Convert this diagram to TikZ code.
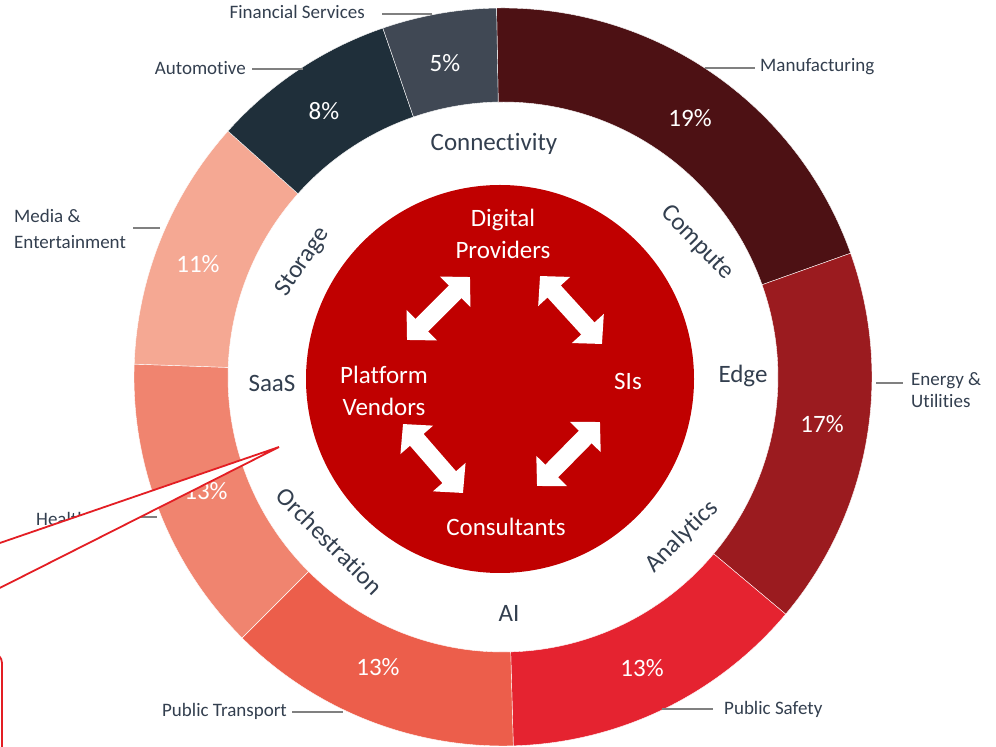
\documentclass[tikz,border=0pt]{standalone}
\usepackage{fontspec}
\setmainfont{Carlito}[Ligatures={NoCommon}]
\usetikzlibrary{arrows.meta}
\definecolor{cManu}{HTML}{4D1114}
\definecolor{cEnergy}{HTML}{9B1B1F}
\definecolor{cSafety}{HTML}{E52330}
\definecolor{cTrans}{HTML}{EC5E4B}
\definecolor{cHealth}{HTML}{F0846F}
\definecolor{cMedia}{HTML}{F5A893}
\definecolor{cAuto}{HTML}{1F2F3A}
\definecolor{cFin}{HTML}{404854}
\definecolor{cHub}{HTML}{C00000}
\definecolor{cText}{HTML}{333F4F}
\definecolor{cLead}{HTML}{808080}
\definecolor{cCall}{HTML}{E31E24}
\begin{document}
\begin{tikzpicture}[x=1pt,y=1pt,
  catlabel/.style={inner sep=0pt, text=cText, font=\fontsize{19}{22}\selectfont},
  ringlabel/.style={inner sep=0pt, text=cText, font=\fontsize{25}{30}\selectfont},
  pct/.style={inner sep=0pt, text=white, font=\fontsize{25}{30}\selectfont},
  hublabel/.style={inner sep=0pt, text=white, align=center, font=\fontsize{25}{32}\selectfont},
  leader/.style={draw=cLead, line width=1.6pt},
  dblarrow/.style={draw=white, fill=white, line width=18pt,
     {Triangle[width=42pt,length=21pt]}-{Triangle[width=42pt,length=21pt]}},
  callout/.style={fill=white, draw=cCall, line width=1.8pt, line join=miter}]
\useasboundingbox (0,0) rectangle (996,747);
\clip (0,0) rectangle (996,747);
\fill[white] (0,0) rectangle (996,747);

% donut ring
\begin{scope}[shift={(503,370)}]
\foreach \a/\b/\c in {91/19.6/cManu, 19.6/-40/cEnergy, -40/-88.4/cSafety,
   -88.4/-135/cTrans, -135/-182/cHealth, -182/-221.8/cMedia,
   -221.8/-251/cAuto, -251/-269/cFin}
  \filldraw[fill=\c, draw=white, line width=0.4pt]
    (\a:369) arc[start angle=\a, end angle=\b, radius=369]
    -- (\b:275) arc[start angle=\b, end angle=\a, radius=275] -- cycle;
\end{scope}

% hub
\node[circle, fill=cHub, minimum size=388pt, inner sep=0pt] (hub) at (500,368) {};

% hub labels
\node[hublabel] (dig) at (503,513) {Digital\\Providers};
\node[hublabel] (plat) at (384,356) {Platform\\Vendors};
\node[hublabel] (sis) at (628,366) {SIs};
\node[hublabel] (cons) at (506,220) {Consultants};

% arrows
\coordinate (nw1) at (407,407); \coordinate (nw2) at (470,470);
\coordinate (ne1) at (540,471); \coordinate (ne2) at (602,403);
\coordinate (se1) at (600,325); \coordinate (se2) at (537,261);
\coordinate (sw1) at (403,323); \coordinate (sw2) at (463,254);
\draw[dblarrow] (nw1) -- (nw2);
\draw[dblarrow] (ne1) -- (ne2);
\draw[dblarrow] (se1) -- (se2);
\draw[dblarrow] (sw1) -- (sw2);

% ring labels
\node[ringlabel] (conn) at (494,603) {Connectivity};
\node[ringlabel, rotate=-46] (comp) at (697,504) {Compute};
\node[ringlabel] (edge) at (743,371) {Edge};
\node[ringlabel, rotate=45] (anal) at (682,210) {Analytics};
\node[ringlabel] (ai) at (509,134) {AI};
\node[ringlabel, rotate=-45] (orch) at (330,206) {Orchestration};
\node[ringlabel] (saas) at (272,364) {SaaS};
\node[ringlabel, rotate=56] (stor) at (303,485) {Storage};

% percentages
\node[pct] (p19) at (690,629) {19\%};
\node[pct] (p17) at (822,323) {17\%};
\node[pct] (p13a) at (642,79) {13\%};
\node[pct] (p13b) at (378,80) {13\%};
\node[pct] (p13c) at (206,256) {13\%};
\node[pct] (p11) at (198,483) {11\%};
\node[pct] (p8) at (324,636) {8\%};
\node[pct] (p5) at (445,684) {5\%};

% category labels
\node[catlabel, anchor=east] (lfin) at (365,735) {Financial Services};
\node[catlabel, anchor=east] (lauto) at (246,679) {Automotive};
\node[catlabel, anchor=west] (lmanu) at (760,680) {Manufacturing};
\node[catlabel, anchor=west, align=left] (lenergy) at (911,357) {Energy \&\\Utilities};
\node[catlabel, anchor=west, align=left, font=\fontsize{19}{26}\selectfont] (lmedia) at (14,518) {Media \&\\Entertainment};
\node[catlabel, anchor=west] (lhealth) at (36,228) {Healthcare};
\node[catlabel, anchor=east] (ltrans) at (287,36) {Public Transport};
\node[catlabel, anchor=west] (lsafe) at (724,38) {Public Safety};

% leader lines
\coordinate (fa) at (382,733); \coordinate (fb) at (432,733);
\coordinate (aa) at (252,678); \coordinate (ab) at (303,678);
\coordinate (ma) at (705,679); \coordinate (mb) at (755,679);
\coordinate (ea) at (876,364); \coordinate (eb) at (903,364);
\coordinate (mea) at (133,519); \coordinate (meb) at (160,519);
\coordinate (ha) at (131,230); \coordinate (hb) at (157,230);
\coordinate (ta) at (292,35); \coordinate (tb) at (343,35);
\coordinate (sa) at (662,38); \coordinate (sb) at (713,38);
\draw[leader] (fa) -- (fb);
\draw[leader] (aa) -- (ab);
\draw[leader] (ma) -- (mb);
\draw[leader] (ea) -- (eb);
\draw[leader] (mea) -- (meb);
\draw[leader] (ha) -- (hb);
\draw[leader] (ta) -- (tb);
\draw[leader] (sa) -- (sb);

% callout (mostly off-picture)
\coordinate (tip) at (279,300);
\draw[callout] (tip) -- (-320,94) -- (-600,94) -- (-600,-100) -- (2,-100)
   -- (2,84) arc[start angle=0, end angle=90, radius=10] -- (-129,94) -- cycle;
\end{tikzpicture}
\end{document}
